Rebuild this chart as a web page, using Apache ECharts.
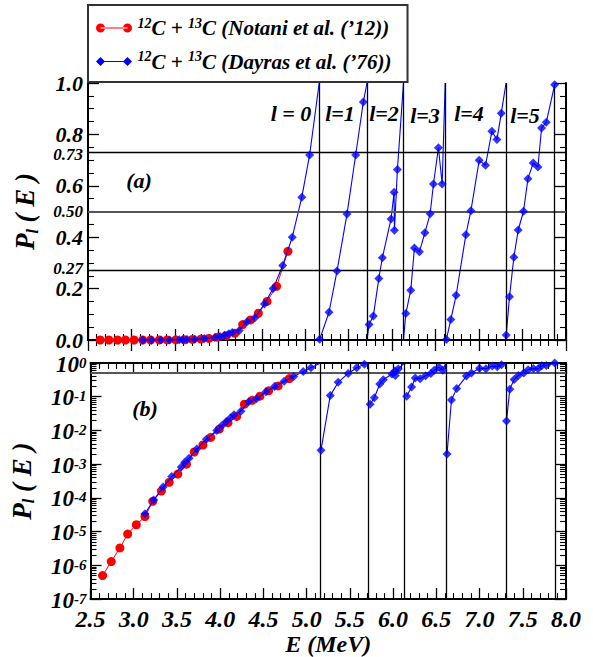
<!DOCTYPE html>
<html><head><meta charset="utf-8">
<script src="https://cdn.jsdelivr.net/npm/echarts@6/dist/echarts.min.js"></script>
<style>html,body{margin:0;padding:0;background:#fff}#c{width:593px;height:657px}</style>
</head><body><div id="c"></div>
<script>
// ---- data ----
const notaniE = [2.64, 2.74, 2.84, 2.93, 3.03, 3.13, 3.22, 3.32, 3.41, 3.51, 3.61, 3.70, 3.80, 3.89, 3.99, 4.09, 4.19, 4.28, 4.37, 4.46, 4.56, 4.67, 4.80];
const notaniP = [5.0e-7, 1.3e-6, 3.3e-6, 8.5e-6, 1.6e-5, 2.8e-5, 7.9e-5, 1.6e-4, 2.9e-4, 5.1e-4, 1.0e-3, 2.3e-3, 3.7e-3, 6.2e-3, 1.1e-2, 1.7e-2, 2.6e-2, 6.0e-2, 7.8e-2, 0.104, 0.150, 0.209, 0.345];

const dayrasL0E = [3.13, 3.23, 3.34, 3.44, 3.55, 3.59, 3.64, 3.73, 3.84, 3.96, 4.02, 4.07, 4.12, 4.16, 4.24, 4.33, 4.42, 4.53, 4.63, 4.74, 4.85, 4.96, 5.05];
const dayrasL0P = [3.4e-5, 8.6e-5, 2.1e-4, 4.3e-4, 8.3e-4, 1.15e-3, 1.5e-3, 2.8e-3, 5.5e-3, 1.0e-2, 1.4e-2, 1.85e-2, 2.4e-2, 2.9e-2, 3.7e-2, 7.1e-2, 8.7e-2, 0.14, 0.20, 0.29, 0.40, 0.555, 0.72];
const dayrasL1E = [5.166, 5.273, 5.365, 5.48, 5.58, 5.668];
const dayrasL1P = [0.0026, 0.108, 0.268, 0.49, 0.72, 0.926];
const dayrasL2E = [5.734, 5.783, 5.846, 5.887, 5.987, 6.022, 6.026, 6.06];
const dayrasL2P = [0.060, 0.093, 0.239, 0.32, 0.471, 0.575, 0.427, 0.663];
const dayrasL3E = [6.157, 6.214, 6.256, 6.313, 6.376, 6.437, 6.475, 6.532, 6.575];
const dayrasL3P = [0.103, 0.194, 0.358, 0.343, 0.417, 0.491, 0.607, 0.748, 0.607];
const dayrasL4E = [6.624, 6.675, 6.736, 6.848, 6.906, 7.001, 7.074, 7.147, 7.205, 7.255];
const dayrasL4P = [0.002, 0.080, 0.174, 0.41, 0.503, 0.699, 0.68, 0.812, 0.78, 0.882];
const dayrasL5E = [7.312, 7.35, 7.40, 7.45, 7.511, 7.562, 7.623, 7.677, 7.719, 7.773, 7.869];
const dayrasL5P = [0.019, 0.168, 0.322, 0.428, 0.501, 0.627, 0.689, 0.673, 0.825, 0.847, 0.993];

const thresholds = [5.16, 5.71, 6.13, 6.61, 7.31, 7.87];
const refLevels = [0.27, 0.50, 0.73];
const logRefLevels = [0.5];
const linTickLabels = [0, 0.2, 0.27, 0.4, 0.5, 0.6, 0.73, 0.8, 1.0];
const logDecades = [1e-7, 1e-6, 1e-5, 1e-4, 1e-3, 1e-2, 1e-1, 1];
const waveLabels = ['l = 0', 'l=1', 'l=2', 'l=3', 'l=4', 'l=5'];
const legendNames = ['Notani', 'Dayras'];

// ---- build series data ----
const segE = [dayrasL0E, dayrasL1E, dayrasL2E, dayrasL3E, dayrasL4E, dayrasL5E];
const segP = [dayrasL0P, dayrasL1P, dayrasL2P, dayrasL3P, dayrasL4P, dayrasL5P];
const dayrasPts = [], dayrasLinTop = [], dayrasLinLog = [];
segE.forEach((es, i) => {
  es.forEach((e, j) => {
    const p = [e, segP[i][j]];
    dayrasPts.push(p); dayrasLinTop.push(p); dayrasLinLog.push(p);
  });
  if (i < segE.length - 1) {
    // each partial wave rises to 1 at the next threshold, then the next wave starts from 0
    dayrasLinTop.push([thresholds[i], 1], [thresholds[i], '-'], [thresholds[i], 0]);
    dayrasLinLog.push([thresholds[i], 1], [thresholds[i], '-']);
  }
});
const notaniPts = notaniE.map((e, i) => [e, notaniP[i]]);
const minorLog = [];
for (let k = 0; k < logDecades.length - 1; k++) for (let m = 2; m <= 9; m++) minorLog.push(m * logDecades[k]);

const FONT = "'Liberation Serif','Times New Roman',serif";
const bi = (s, extra) => Object.assign({fontFamily: FONT, fontWeight: 'bold', fontStyle: 'italic', fontSize: s, color: '#000'}, extra || {});
const RED = '#ff0000', BLUE = '#0000ff';

const axLine = {show: true, lineStyle: {color: '#000', width: 2}};
function xAx(grid, pos, labels) {
  return {type: 'value', gridIndex: grid, position: pos, min: 2.5, max: 8.0, interval: 0.5,
    axisLine: axLine, splitLine: {show: false},
    axisTick: {show: true, inside: true, length: 11, lineStyle: {color: '#000', width: 1.3}},
    minorTick: {show: true, splitNumber: 5, length: 6, lineStyle: {color: '#000', width: 1.1}},
    axisLabel: labels ? {show: true, margin: 8, formatter: v => v.toFixed(1), ...bi(24)} : {show: false},
    name: labels ? 'E (MeV)' : '', nameLocation: 'middle', nameGap: 27, nameTextStyle: bi(24)};
}
const nameRich = {p: bi(27, {lineHeight: 30}), sub: bi(16, {lineHeight: 6, verticalAlign: 'bottom'})};
function linLabel(v) {
  if (Math.abs(v - 0.27) < 1e-6) return '{su|0.27}';
  if (Math.abs(v - 0.73) < 1e-6) return '{sd|0.73}';
  if (Math.abs(v - 0.5) < 1e-6) return '{s|0.50}';
  return '{b|' + v.toFixed(1) + '}';
}
function yLin(pos, labels) {
  return {type: 'value', gridIndex: 0, position: pos, min: 0, max: 1, interval: 0.2,
    axisLine: axLine, splitLine: {show: false},
    axisTick: {show: true, inside: true, length: 11, lineStyle: {color: '#000', width: 1.3}},
    minorTick: {show: true, splitNumber: 4, length: 6, lineStyle: {color: '#000', width: 1.1}},
    axisLabel: labels ? {show: true, margin: 5, customValues: linTickLabels, formatter: linLabel,
      rich: {b: bi(22, {lineHeight: 17}), s: bi(17, {lineHeight: 14}),
             su: bi(17, {lineHeight: 14, padding: [0, 0, 4, 0]}), sd: bi(17, {lineHeight: 14, padding: [4, 0, 0, 0]})}} : {show: false},
    name: labels ? '{p|P}{sub|l}{p| ( E )}' : '', nameLocation: 'middle', nameGap: 48, nameRotate: 90,
    nameTextStyle: {rich: nameRich}};
}
function yLog(pos, major, labels) {
  return {type: 'log', logBase: 10, gridIndex: 1, position: pos, min: 1e-7, max: 1,
    axisLine: major ? axLine : {show: false}, splitLine: {show: false},
    axisTick: {show: true, inside: true, length: major ? 11 : 6, customValues: major ? logDecades : minorLog,
      lineStyle: {color: '#000', width: major ? 1.3 : 1.1}},
    axisLabel: labels ? {show: true, margin: 4, customValues: logDecades, padding: [2, 0, 0, 0],
      formatter: v => '{b|10}{sup|' + Math.round(Math.log10(v)) + '}',
      rich: {b: bi(23, {lineHeight: 18}), sup: bi(15, {lineHeight: 8, verticalAlign: 'top'})}} : {show: false},
    name: labels ? '{p|P}{sub|l}{p| ( E )}' : '', nameLocation: 'middle', nameGap: 54, nameRotate: 90,
    nameTextStyle: {rich: nameRich}};
}

const mlBase = {symbol: 'none', silent: true, animation: false, label: {show: false}};
function refLinesSeries(xi, yi, hLevels) {
  return {type: 'line', xAxisIndex: xi, yAxisIndex: yi, data: [], silent: true,
    markLine: Object.assign({}, mlBase, {
      data: hLevels.map(v => ({yAxis: v, lineStyle: {color: Math.abs(v - 0.5) < 1e-6 ? '#555' : '#000', width: Math.abs(v - 0.5) < 1e-6 ? 2 : 1.4, type: 'solid'}}))
        .concat(thresholds.map(t => ({xAxis: t, lineStyle: {color: '#000', width: 1.3, type: 'solid'}})))
    })};
}

const diamond = 'path://M5,0L10,5L5,10L0,5ZM35,0L40,5L35,10L30,5ZM5,4.4L35,4.4L35,5.6L5,5.6Z';
const circ = 'path://M0,5A5,5 0 1,0 10,5A5,5 0 1,0 0,5ZM30,5A5,5 0 1,0 40,5A5,5 0 1,0 30,5ZM5,4.4L35,4.4L35,5.6L5,5.6Z';
const legendText = {Notani: '{sup|12}{b|C + }{sup|13}{b|C (Notani et al. (’12))}', Dayras: '{sup|12}{b|C + }{sup|13}{b|C (Dayras et al. (’76))}'};

const option = {
  animation: false,
  backgroundColor: '#fff',
  grid: [
    {left: 88, top: 83, width: 478, height: 257},
    {left: 88, top: 363, width: 478, height: 242}
  ],
  xAxis: [xAx(0, 'bottom', false), xAx(0, 'top', false), xAx(1, 'bottom', true), xAx(1, 'top', false)],
  yAxis: [yLin('left', true), yLin('right', false), yLog('left', true, true), yLog('left', false, false), yLog('right', true, false), yLog('right', false, false)],
  legend: {
    data: [{name: legendNames[0], icon: circ}, {name: legendNames[1], icon: diamond}],
    orient: 'vertical', left: 88, top: 5, itemWidth: 37, itemHeight: 9, itemGap: 11,
    padding: [11, 16, 10, 8], borderColor: '#333', borderWidth: 2, backgroundColor: '#fff',
    selectedMode: false,
    formatter: n => legendText[n],
    textStyle: {rich: {b: bi(21, {lineHeight: 24}), sup: bi(14, {lineHeight: 12, verticalAlign: 'top'})}}
  },
  series: [
    {name: legendNames[0], type: 'line', xAxisIndex: 0, yAxisIndex: 0, data: notaniPts, z: 2,
      symbol: 'circle', symbolSize: 9, itemStyle: {color: RED}, lineStyle: {color: RED, width: 1}},
    {name: legendNames[1], type: 'line', xAxisIndex: 0, yAxisIndex: 0, data: dayrasLinTop, z: 3, connectNulls: false,
      showSymbol: false, symbol: 'none', itemStyle: {color: BLUE}, lineStyle: {color: BLUE, width: 1.1}},
    refLinesSeries(0, 0, refLevels),
    {name: legendNames[1], type: 'scatter', xAxisIndex: 0, yAxisIndex: 0, data: dayrasPts, z: 6,
      symbol: 'diamond', symbolSize: 9, itemStyle: {color: BLUE}},

    {name: legendNames[0], type: 'line', xAxisIndex: 2, yAxisIndex: 2, data: notaniPts, z: 2,
      symbol: 'circle', symbolSize: 9, itemStyle: {color: RED}, lineStyle: {color: RED, width: 1}},
    {name: legendNames[1], type: 'line', xAxisIndex: 2, yAxisIndex: 2, data: dayrasLinLog, z: 3, connectNulls: false,
      showSymbol: false, symbol: 'none', itemStyle: {color: BLUE}, lineStyle: {color: BLUE, width: 1.1}},
    refLinesSeries(2, 2, logRefLevels),
    {name: legendNames[1], type: 'scatter', xAxisIndex: 2, yAxisIndex: 2, data: dayrasPts, z: 6,
      symbol: 'diamond', symbolSize: 9, itemStyle: {color: BLUE}}
  ],
  graphic: [
    ...waveLabels.map((t, i) => ({type: 'text', x: [291, 340, 384, 425, 469, 525][i], y: [113, 113, 113, 115, 113, 115][i], z: 10,
      style: {text: t, font: 'italic bold 22px ' + FONT, fill: '#000', align: 'center', verticalAlign: 'middle'}})),
    {type: 'text', x: 139, y: 180, z: 10, style: {text: '(a)', font: 'italic bold 22px ' + FONT, fill: '#000', align: 'center', verticalAlign: 'middle'}},
    {type: 'text', x: 145, y: 408, z: 10, style: {text: '(b)', font: 'italic bold 22px ' + FONT, fill: '#000', align: 'center', verticalAlign: 'middle'}}
  ]
};
const chart = echarts.init(document.getElementById('c'), null, {renderer: 'svg'});
chart.setOption(option);
</script></body></html>
